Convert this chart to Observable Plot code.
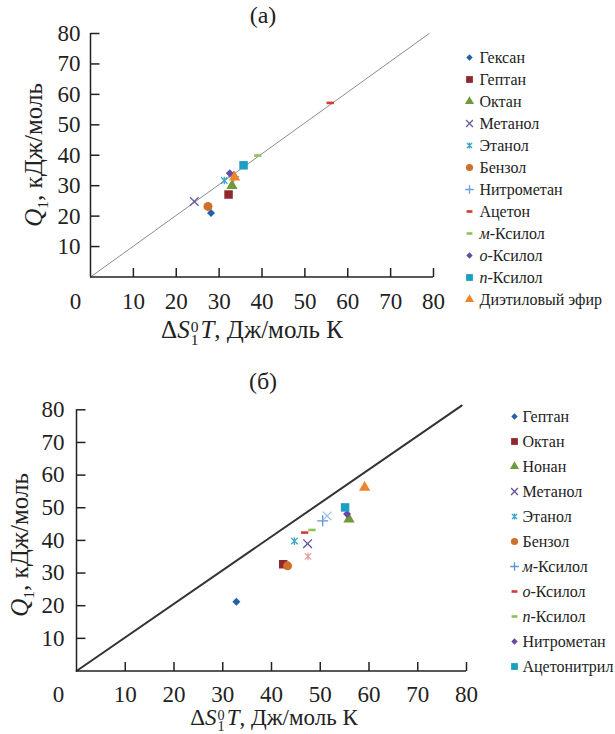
<!DOCTYPE html>
<html><head><meta charset="utf-8">
<script src="https://cdn.jsdelivr.net/npm/d3@7"></script>
<script src="https://cdn.jsdelivr.net/npm/@observablehq/plot@0.6"></script>
<style>
body{margin:0;background:#fff;font-family:"Liberation Serif",serif;color:#222;}
#page{position:relative;width:615px;height:734px;overflow:hidden;}
#page svg{position:absolute;overflow:visible;}
.lbl{position:absolute;white-space:nowrap;font-size:25px;line-height:26px;transform:translate(-50%,-50%);}
.rot{transform:translate(-50%,-50%) rotate(-90deg);}
.sc{display:inline-block;vertical-align:-0.42em;line-height:0.8;font-size:0.62em;text-align:left;margin:0 2px 0 1px;}
</style></head><body>
<div id="page">
  <div class="lbl" style="left:263px;top:15px;font-size:24px">(а)</div>
  <div class="lbl" style="left:263px;top:381px;font-size:24px">(б)</div>
  <div class="lbl rot" style="left:38px;top:155px"><i>Q</i><sub style="font-size:0.62em">1</sub>, кДж/моль</div>
  <div class="lbl rot" style="left:24px;top:545px"><i>Q</i><sub style="font-size:0.62em">1</sub>, кДж/моль</div>
  <div class="lbl" style="left:252px;top:331px">Δ<i>S</i><span class="sc">0<br>1</span><i>T</i>, Дж/моль К</div>
  <div class="lbl" style="left:274px;top:719px;font-size:23px">Δ<i>S</i><span class="sc">0<br>1</span><i>T</i>, Дж/моль К</div>
</div>
<script>
// ---------- data ----------
const xTicks = [10, 20, 30, 40, 50, 60, 70, 80];
const yTicks = [10, 20, 30, 40, 50, 60, 70, 80];

// panel (а)
const namesA = ["Гексан", "Гептан", "Октан", "Метанол", "Этанол", "Бензол", "Нитрометан", "Ацетон", "м-Ксилол", "о-Ксилол", "п-Ксилол", "Диэтиловый эфир"];
const xA = [28.1, 32.2, 33.0, 24.2, 31.2, 27.4, 33.4, 55.9, 39.0, 32.5, 35.7, 33.6];
const yA = [21.0, 27.1, 30.0, 24.8, 31.7, 23.2, 33.0, 57.2, 39.9, 34.1, 36.7, 32.8];
const diagAX = [0, 79];
const diagAY = [0, 80];

// panel (б)
const namesB = ["Гептан", "Октан", "Нонан", "Метанол", "Этанол", "Бензол", "м-Ксилол", "о-Ксилол", "п-Ксилол", "Нитрометан", "Ацетонитрил"];
const xB = [32.8, 42.4, 55.9, 47.4, 44.7, 43.3, 50.5, 46.8, 48.3, 55.5, 55.1];
const yB = [21.2, 32.7, 46.5, 39.0, 39.8, 32.2, 46.0, 42.4, 43.2, 48.1, 50.1];
// series plotted in (б) whose legend entries are cut off
const extraNamesB = ["ряд 12", "ряд 13", "ряд 14"];
const extraXB = [47.5, 51.4, 59.1];
const extraYB = [35.1, 47.5, 56.2];
const diagBX = [0, 79];
const diagBY = [0, 81.3];

// ---------- styles ----------
const dash = {draw(ctx, size){ const w = Math.sqrt(size) * 0.48; ctx.moveTo(-w, 0); ctx.lineTo(w, 0); }};
const star = {draw(ctx, size){ const w = Math.sqrt(size) * 0.4; ctx.moveTo(-w, -w); ctx.lineTo(w, w); ctx.moveTo(-w, w); ctx.lineTo(w, -w); ctx.moveTo(0, -w*1.2); ctx.lineTo(0, w*1.2); }};
// inward axis tick shapes (fixed 9 px length)
const tickUp = {draw(ctx){ ctx.moveTo(0, 0); ctx.lineTo(0, -9); }};
const tickRight = {draw(ctx){ ctx.moveTo(0, 0); ctx.lineTo(9, 0); }};
const kinds = {
  diamond: {symbol: "diamond2", filled: true, r: 3.6},
  square: {symbol: "square", filled: true, r: 4.8},
  triangle: {symbol: "triangle", filled: true, r: 4.2},
  circle: {symbol: "circle", filled: true, r: 4.5},
  times: {symbol: "times", filled: false, r: 4, sw: 1.3},
  star: {symbol: star, filled: false, r: 4.5, sw: 1.3},
  plus: {symbol: "plus", filled: false, r: 3.6, sw: 1.3},
  dash: {symbol: dash, filled: false, r: 4.3, sw: 2.6}
};
const stylesA = [
  ["diamond", "#2360a5"], ["square", "#8e2a2e"], ["triangle", "#6f9a3a"], ["times", "#6a58a0"],
  ["star", "#36a6c6"], ["circle", "#cf6f2c"], ["plus", "#6a9fd8"], ["dash", "#d23a3a"],
  ["dash", "#8fc05a"], ["diamond", "#6a4aa0"], ["square", "#1d9fc4"], ["triangle", "#f28228"]
];
const drawOrderA = [6, 0, 1, 2, 3, 4, 5, 7, 8, 9, 10, 11]; // Нитрометан lies hidden under the others
const stylesB = [
  ["diamond", "#2360a5"], ["square", "#8e2a2e"], ["triangle", "#6f9a3a"], ["times", "#6050a0"],
  ["star", "#36a6c6"], ["circle", "#cf6f2c"], ["plus", "#5a93d6"], ["dash", "#d23a3a"],
  ["dash", "#8fc05a"], ["diamond", "#6a4aa0"], ["square", "#1d9fc4"]
];
const extraStylesB = [["star", "#e8a0a8"], ["times", "#9cc0e8"], ["triangle", "#f28228"]];

function dotStyle([kind, color], scale = 1) {
  const k = kinds[kind];
  return k.filled
    ? {symbol: k.symbol, r: k.r * scale, fill: color, stroke: "none"}
    : {symbol: k.symbol, r: k.r * scale, fill: "none", stroke: color, strokeWidth: k.sw};
}

const FONT = "'Liberation Serif', 'Times New Roman', serif";
const AXIS = "#222";

function panel(o) {
  const marks = [
    Plot.line([0, 1], {x: i => o.diagX[i], y: i => o.diagY[i], stroke: o.diagStroke, strokeWidth: o.diagWidth}),
    Plot.axisX({ticks: xTicks, tickSize: 0, tickPadding: o.xPad, label: null, fill: "#222"}),
    Plot.axisX({ticks: [0], tickSize: 0, tickPadding: o.xPad, dx: o.zeroDx, label: null, fill: "#222"}),
    Plot.axisY({ticks: yTicks, tickSize: 0, tickPadding: o.yPad, label: null, fill: "#222"})
  ];
  o.series.forEach(s => {
    const order = s.order || s.names.map((_, i) => i);
    order.forEach(i => {
      const n = s.names[i];
      marks.push(Plot.dot([i], {x: j => s.xs[j], y: j => s.ys[j], ...dotStyle(s.styles[i]), title: () => n}));
    });
  });
  marks.push(
    // inward tick marks on both axes, placed on the axis baselines
    Plot.dot(xTicks, {x: d => d, y: () => 0, symbol: tickUp, fill: "none", stroke: AXIS, strokeWidth: 1.5}),
    Plot.dot(yTicks, {y: d => d, x: () => 0, symbol: tickRight, fill: "none", stroke: AXIS, strokeWidth: 1.5}),
    Plot.ruleY([0], {stroke: AXIS, strokeWidth: 1.5}),
    Plot.ruleX([0], {stroke: AXIS, strokeWidth: 1.5})
  );
  const svg = Plot.plot({
    width: o.width, height: o.height,
    marginLeft: o.ml, marginRight: o.mr, marginTop: o.mt, marginBottom: o.mb,
    x: {domain: [0, 80]}, y: {domain: [0, 80]},
    style: {fontFamily: FONT, fontSize: "23px", background: "transparent", color: "#222"},
    marks
  });
  svg.style.left = o.left + "px";
  svg.style.top = o.top + "px";
  return svg;
}

function legend(o) {
  const marks = o.names.map((n, i) => Plot.dot([n], {y: d => d, frameAnchor: "left", ...dotStyle(o.styles[i], 0.8)}));
  marks.push(Plot.text(o.names, {y: d => d, frameAnchor: "left", dx: o.dx, textAnchor: "start", text: d => d, fill: "#222"}));
  const svg = Plot.plot({
    width: o.width, height: o.height,
    marginLeft: o.ml, marginRight: 0, marginTop: 0, marginBottom: 0,
    x: {axis: null},
    y: {type: "point", domain: o.names, range: o.range, padding: 0, axis: null},
    style: {fontFamily: FONT, fontSize: o.fontSize + "px", background: "transparent", color: "#222"},
    marks
  });
  d3.select(svg).selectAll('g[aria-label="text"] text').each(function () {
    const t = this.textContent;
    const m = /^([мопМОП])-(.*)$/.exec(t);
    if (m) {
      const sel = d3.select(this);
      sel.text(null);
      sel.append("tspan").attr("font-style", "italic").text(m[1]);
      sel.append("tspan").text("-" + m[2]);
    }
  });
  svg.style.left = o.left + "px";
  svg.style.top = o.top + "px";
  return svg;
}

const page = document.getElementById("page");

page.appendChild(panel({
  left: 0, top: 0, width: 460, height: 350,
  ml: 90, mr: 27, mt: 33, mb: 73.5,
  xPad: 16, yPad: 10, zeroDx: -15,
  diagX: diagAX, diagY: diagAY, diagStroke: "#8c8c8c", diagWidth: 1,
  series: [{names: namesA, xs: xA, ys: yA, styles: stylesA, order: drawOrderA}]
}));
page.appendChild(legend({
  left: 455, top: 0, width: 160, height: 320, ml: 14, dx: 10,
  names: namesA, styles: stylesA, range: [55, 301.7], fontSize: 16
}));

page.appendChild(panel({
  left: 0, top: 370, width: 480, height: 364,
  ml: 76, mr: 14, mt: 39.3, mb: 63.5,
  xPad: 15, yPad: 12, zeroDx: -18,
  diagX: diagBX, diagY: diagBY, diagStroke: "#333", diagWidth: 2,
  series: [
    {names: namesB, xs: xB, ys: yB, styles: stylesB},
    {names: extraNamesB, xs: extraXB, ys: extraYB, styles: extraStylesB}
  ]
}));
page.appendChild(legend({
  left: 500, top: 380, width: 115, height: 310, ml: 14, dx: 8,
  names: namesB, styles: stylesB, range: [32, 290], fontSize: 16
}));
</script>
</body></html>
